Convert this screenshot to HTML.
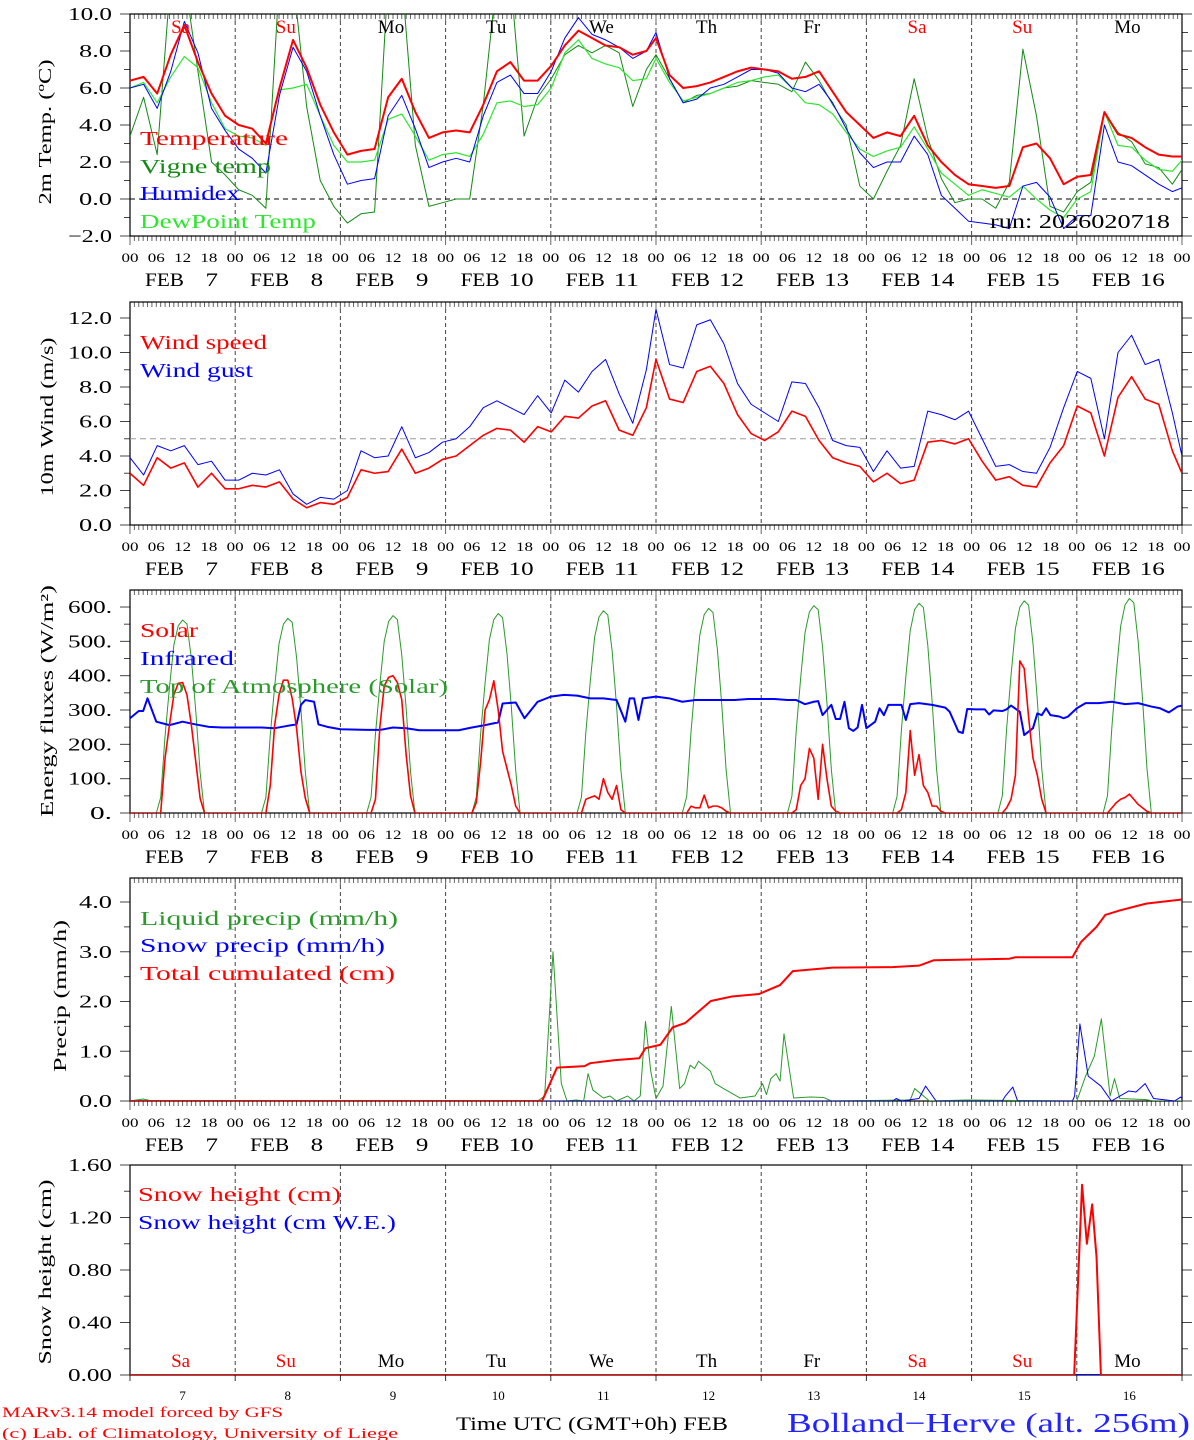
<!DOCTYPE html>
<html><head><meta charset="utf-8"><title>Meteogram</title>
<style>
html,body{margin:0;padding:0;background:#fff;}
svg{display:block;font-family:"Liberation Serif",serif;}
</style></head>
<body>
<svg id="chart" xmlns="http://www.w3.org/2000/svg" width="1194" height="1440" viewBox="0 0 1194 1440">
<rect x="0" y="0" width="1194" height="1440" fill="#fff"/>
<g id="layer"></g>
<g font-size="20">
<text x="140" y="145" fill="#f00" textLength="148" lengthAdjust="spacingAndGlyphs">Temperature</text>
<text x="140" y="173" fill="#138a13" textLength="131" lengthAdjust="spacingAndGlyphs">Vigne temp</text>
<text x="140" y="200" fill="#00f" textLength="100" lengthAdjust="spacingAndGlyphs">Humidex</text>
<text x="140" y="228" fill="#2ee62e" textLength="176" lengthAdjust="spacingAndGlyphs">DewPoint Temp</text>
<text x="990" y="228" fill="#000" textLength="180" lengthAdjust="spacingAndGlyphs">run: 2026020718</text>
<text x="140" y="349" fill="#f00" textLength="127" lengthAdjust="spacingAndGlyphs">Wind speed</text>
<text x="140" y="377" fill="#00f" textLength="113" lengthAdjust="spacingAndGlyphs">Wind gust</text>
<text x="140" y="637" fill="#f00" textLength="58" lengthAdjust="spacingAndGlyphs">Solar</text>
<text x="140" y="665" fill="#00f" textLength="94" lengthAdjust="spacingAndGlyphs">Infrared</text>
<text x="140" y="693" fill="#2a9a2a" textLength="308" lengthAdjust="spacingAndGlyphs">Top of Atmosphere (Solar)</text>
<text x="140" y="925" fill="#2a9a2a" textLength="258" lengthAdjust="spacingAndGlyphs">Liquid precip (mm/h)</text>
<text x="140" y="952" fill="#00f" textLength="245" lengthAdjust="spacingAndGlyphs">Snow precip (mm/h)</text>
<text x="140" y="980" fill="#f00" textLength="255" lengthAdjust="spacingAndGlyphs">Total cumulated (cm)</text>
<text x="138" y="1201" fill="#f00" textLength="203" lengthAdjust="spacingAndGlyphs">Snow height (cm)</text>
<text x="138" y="1229" fill="#00f" textLength="258" lengthAdjust="spacingAndGlyphs">Snow height (cm W.E.)</text>
</g>
<g font-size="18" fill="#000">
<text transform="translate(51,132) rotate(-90)" text-anchor="middle" textLength="145" lengthAdjust="spacingAndGlyphs">2m Temp. (ºC)</text>
<text transform="translate(53,417) rotate(-90)" text-anchor="middle" textLength="159" lengthAdjust="spacingAndGlyphs">10m Wind (m/s)</text>
<text transform="translate(53,701) rotate(-90)" text-anchor="middle" textLength="232" lengthAdjust="spacingAndGlyphs">Energy fluxes (W/m²)</text>
<text transform="translate(66,996) rotate(-90)" text-anchor="middle" textLength="152" lengthAdjust="spacingAndGlyphs">Precip (mm/h)</text>
<text transform="translate(51,1272) rotate(-90)" text-anchor="middle" textLength="185" lengthAdjust="spacingAndGlyphs">Snow height (cm)</text>
</g>
<g>
<text x="2" y="1417" font-size="15" fill="#f00" textLength="281" lengthAdjust="spacingAndGlyphs">MARv3.14 model forced by GFS</text>
<text x="2" y="1438" font-size="15" fill="#f00" textLength="396" lengthAdjust="spacingAndGlyphs">(c) Lab. of Climatology, University of Liege</text>
<text x="456" y="1430" font-size="19" fill="#000" textLength="272" lengthAdjust="spacingAndGlyphs">Time UTC (GMT+0h) FEB</text>
<text x="787" y="1432" font-size="27" fill="#2323ff" textLength="403" lengthAdjust="spacingAndGlyphs">Bolland−Herve (alt. 256m)</text>
</g>
</svg>
<script>
// ---------- data ----------
const tsHours = [0,3.1,6.2,9.3,12.4,15.5,18.6,21.7,24.8,27.9,31,34.1,37.2,40.3,43.4,46.5,49.6,52.7,55.8,58.9,62,65.1,68.2,71.3,74.4,77.5,80.6,83.7,86.8,89.9,93,96.1,99.2,102.3,105.4,108.5,111.6,114.7,117.8,
120,123.1,126.2,129.3,132.4,135.5,138.6,141.7,144.8,147.9,151,154.1,157.2,160.3,163.4,166.5,169.6,172.7,175.8,178.9,182,185.1,188.2,191.3,194.4,197.5,200.6,203.7,206.8,209.9,213,216.1,219.2,222.3,225.4,228.5,231.6,234.7,237.8,240];
const tempValues = [6.4,6.6,5.7,7.8,9.4,7.4,5.7,4.5, 4.0,3.8,3.0,6.0,8.6,7.1,5.1,3.6, 2.4,2.6,2.7,5.5,6.5,4.7,3.3,3.6, 3.7,3.6,5.1,6.9,7.4,6.4,6.4,7.2, 8.3,9.1,8.7,8.3,8.2,7.8,8.0,
8.7,6.7,6.0,6.1,6.3,6.6,6.9,7.1, 7.0,6.9,6.5,6.6,6.9,5.8,4.7,4.0, 3.3,3.6,3.4,4.5,2.9,2.0,1.3, 0.8,0.7,0.6,0.7,2.8,3.0,2.2,0.8, 1.2,1.3,4.7,3.5,3.3,2.8,2.4,2.3, 2.3];
const vigneValues = [3.4,5.5,2.4,12,12,6.9,2.0,1.3, 0.5,0.2,-0.5,12,12,5.0,1.0,-0.4, -1.3,-0.8,-0.7,12,12,2.9,-0.4,-0.2, 0.0,0.0,5.1,12,12,3.4,5.5,6.5, 7.8,8.3,7.9,8.3,7.9,5.0,7.0,
7.8,6.5,5.2,5.6,5.7,6.0,6.1,6.4, 6.3,6.2,5.8,7.4,6.4,5.1,4.0,0.7, 0.0,1.5,2.9,6.5,3.3,1.1,-0.2, 0.0,0.0,-0.5,0.9,8.1,4.5,-0.4,-0.7, 0.4,0.9,4.7,3.6,3.1,1.9,1.7,0.8, 1.6];
const humidexValues = [6.0,6.2,4.9,6.9,9.6,7.9,4.9,3.7, 2.7,2.2,1.4,5.6,8.2,6.9,4.5,2.4, 0.8,1.0,1.1,4.5,5.6,3.8,1.7,2.0, 2.2,2.0,4.5,6.3,6.7,5.7,5.7,6.9, 8.7,9.8,8.9,8.6,8.2,7.6,8.0,
9.0,6.5,5.2,5.4,6.0,6.2,6.6,7.0, 7.0,6.8,6.0,5.8,6.2,5.2,3.8,2.5, 1.7,2.0,2.0,3.4,2.4,0.2,-0.5, -1.2,-1.3,-1.4,-1.6,0.7,0.9,0.1,-1.6, -0.9,-0.9,4.0,2.0,1.8,1.3,0.8,0.4, 0.6];
const dewpointValues = [6.0,6.3,5.2,6.6,7.7,7.1,5.2,3.8, 3.4,3.3,2.9,5.9,6.0,6.2,4.5,2.9, 2.0,2.0,2.1,4.3,4.6,3.4,2.1,2.4, 2.5,2.3,3.5,5.2,5.3,5.0,5.1,6.0, 7.9,8.6,7.6,7.3,7.1,6.4,6.5,
7.6,6.3,5.3,5.5,5.7,6.0,6.3,6.4, 6.6,6.7,6.0,5.2,5.1,4.6,3.6,2.7, 2.3,2.6,2.8,3.9,2.7,1.4,0.8, 0.2,0.5,0.3,0.1,0.7,0.0,-0.6,-1.0, 0.0,0.4,4.7,2.9,2.8,2.1,1.6,1.5, 2.1];
const windSpeed = [3.0,2.3,3.9,3.3,3.6,2.2,3.0,2.1, 2.1,2.3,2.2,2.5,1.5,1.0,1.3,1.2, 1.6,3.2,3.0,3.1,4.4,3.0,3.3,3.8, 4.0,4.6,5.2,5.6,5.5,4.8,5.7,5.4, 6.3,6.2,6.9,7.2,5.5,5.2,6.8,
9.6,7.3,7.1,8.9,9.2,8.2,6.4,5.3, 4.9,5.4,6.6,6.3,4.9,3.9,3.6,3.4, 2.5,3.0,2.4,2.6,4.8,4.9,4.7,5.0, 3.7,2.6,2.8,2.3,2.2,3.6,4.6,6.9, 6.5,4.0,7.4,8.6,7.3,7.0,4.3, 3.0];
const windGust = [3.9,2.9,4.6,4.3,4.6,3.5,3.7,2.6, 2.6,3.0,2.9,3.2,1.8,1.2,1.6,1.5, 2.0,4.3,3.9,4.0,5.7,3.9,4.2,4.8, 5.0,5.7,6.8,7.2,6.8,6.4,7.5,6.5, 8.4,7.7,8.9,9.6,7.6,5.9,9.0,
12.5,9.3,9.1,11.6,11.9,10.5,8.2,7.0, 6.5,6.0,8.3,8.2,6.8,4.9,4.6,4.5, 3.1,4.3,3.3,3.4,6.6,6.4,6.1,6.6, 5.0,3.4,3.5,3.1,3.0,4.5,6.8,8.9, 8.5,5.0,10.0,11.0,9.3,9.6,6.5, 4.0];
const solarHourOfDay = [6,7,8,9,10,11,12,13,14,15,16,17,18];
const solarDay7  = [0,0,160,256,344,378,380,344,256,150,43,0,0];
const solarDay8  = [0,0,80,256,344,387,387,334,247,120,43,0,0];
const solarDay9  = [0,0,40,250,370,395,400,380,330,170,50,0,0];
const solarDay10 = [0,30,150,300,330,385,300,180,130,80,20,0,0];
const solarDay11 = [0,0,40,45,50,40,100,60,40,80,10,0,0];
const solarDay12 = [0,0,20,15,15,52,15,20,20,15,5,0,0];
const solarDay13 = [0,0,10,80,100,188,160,40,200,100,20,5,0];
const solarDay14 = [0,0,10,60,240,110,170,80,60,20,20,5,0];
const solarDay15 = [0,0,15,40,110,443,421,280,160,110,40,0,0];
const solarDay16 = [0,0,15,30,40,45,55,40,25,15,5,0,0];
const toaDailyPeak = [562,567,575,581,589,596,604,611,618,625];
const toaShape = [0,0.08,0.40,0.65,0.87,0.97,1.0,0.98,0.8,0.53,0.21,0,0];
const irHours = [0,2,3,4,6,9,12,15,18,21,24,30,33,36,38,39,40,42,43,45,48,54,57,60,63,66,69,72,75,78,81,84,85,88,90,93,96,99,102,105,108,111,113,114,115,116,117,120,123,126,129,132,135,138,141,144,147,150,152,154,156,157,158,160,161,162,163,164,165,166,167,168,170,171,172,173,175,176,177,178,180,183,186,187,189,190,191,193,195,196,197,199,200,201,203,204,206,207,208,209,210,212,213,214,216,218,221,224,227,230,233,235,237,239,240];
const irValues = [276,297,297,334,266,256,266,258,251,249,249,249,247,254,258,315,329,324,258,251,244,242,242,249,247,241,241,241,241,249,256,264,319,322,276,324,339,344,342,334,334,329,266,334,334,271,334,339,334,324,329,329,329,329,332,332,332,329,329,317,324,326,285,315,274,274,324,247,239,249,315,247,266,305,285,315,315,315,271,317,320,315,307,295,237,233,303,302,302,287,299,297,302,313,295,227,247,290,285,305,285,281,276,281,305,320,320,324,317,320,310,305,293,310,313];
const liquidHours = [0,3,5,93,94.6,96.5,98.4,99.7,101.8,103.5,104.5,105.6,108,109.5,111,113.5,115,116.4,117.6,118.8,120,121.6,123.5,125.4,126.5,127.8,128.8,129.7,132.4,133.5,135.4,139.2,142.6,144.3,145.2,146.2,147.4,148.3,149.2,151.4,155.2,158.3,160,178,179,182.4,191,216,218,220,221.6,223.6,224.6,225.8,231.6,233.5,240];
const liquidValues = [0,0.04,0,0,0.1,3.0,0.35,0,0.02,0,0.55,0.22,0.06,0.1,0,0.1,0,0.1,1.6,0.6,0.05,0.3,1.9,0.25,0.35,0.72,0.65,0.8,0.6,0.35,0.25,0.06,0.1,0.35,0.13,0.45,0.55,0.4,1.35,0.06,0.08,0.07,0,0.02,0.25,0,0.02,0,0.5,0.9,1.65,0.1,0.45,0.05,0.03,0,0];
const snowPrecipHours = [0,174,174.8,176,180,181.5,183.9,199,199.7,201.4,202.5,215,215.5,216.7,218.6,221.5,223.9,227.8,229.5,231.6,233.5,238.3,239.7,240];
const snowPrecipValues = [0,0,0.05,0,0.05,0.3,0,0,0.1,0.28,0,0,0.1,1.55,0.5,0.3,0,0.2,0.18,0.35,0.05,0,0.08,0.05];
const cumHours = [0,94,95.5,97.4,103.7,105,110.4,116.2,117.6,121,123.8,126.7,132.5,137.3,143.5,148.3,151.2,160.3,173.8,180,183.4,200.6,202,215,217,220.5,222.5,225.8,229.7,232,240];
const cumValues = [0,0,0.29,0.67,0.7,0.76,0.82,0.86,1.06,1.13,1.48,1.57,2.01,2.10,2.15,2.33,2.61,2.68,2.69,2.72,2.83,2.86,2.89,2.89,3.2,3.5,3.74,3.83,3.92,3.97,4.05];
const snowHeightHours = [0,215.4,217.2,218.3,219.5,220.5,221.5,240];
const snowHeightValues = [0,0,1.45,1.0,1.3,0.9,0,0];
const snowWEHours = [0,240];
const snowWEValues = [0,0];
const dayNames = ["Sa","Su","Mo","Tu","We","Th","Fr","Sa","Su","Mo"];
const dayNumbers = ["7","8","9","10","11","12","13","14","15","16"];
const hourTickLabels = ["00","06","12","18"];

// ---------- layout ----------
const NS = "http://www.w3.org/2000/svg";
const layer = document.getElementById("layer");
const X0 = 130, X1 = 1182, HMAX = 240;
function xScale(h){ return X0 + h*(X1-X0)/HMAX; }
const panels = [
 {id:"temp", top:14, bottom:236, min:-2, max:10, major:2, minor:1, fmt:v=>(v<0?"−":"")+Math.abs(v).toFixed(1)},
 {id:"wind", top:302, bottom:525, min:0, max:223/17.25, major:2, minor:1, lmax:12, fmt:v=>v.toFixed(1)},
 {id:"energy", top:590, bottom:813, min:0, max:223/0.3433, major:100, minor:50, lmax:600, fmt:v=>v.toFixed(0)+"."},
 {id:"precip", top:878, bottom:1101, min:0, max:223/49.75, major:1, minor:0.5, lmax:4, fmt:v=>v.toFixed(1)},
 {id:"snow", top:1165, bottom:1375, min:0, max:1.6, major:0.4, minor:0.2, fmt:v=>v.toFixed(2)}
];
function yScale(p,v){ return p.bottom - (v-p.min)*(p.bottom-p.top)/(p.max-p.min); }
function mk(tag, attrs, parent){
  const e = document.createElementNS(NS, tag);
  for (const k in attrs) e.setAttribute(k, attrs[k]);
  (parent||layer).appendChild(e);
  return e;
}
function pathD(p, hours, vals){
  let d = "";
  const n = Math.min(hours.length, vals.length);
  for (let i=0;i<n;i++){
    d += (i?"L":"M") + xScale(hours[i]).toFixed(2) + "," + yScale(p, vals[i]).toFixed(2);
  }
  return d;
}
const defs = mk("defs", {});
panels.forEach((p,pi)=>{
  const cp = mk("clipPath", {id:"clip"+pi}, defs);
  mk("rect", {x:X0, y:p.top, width:X1-X0, height:p.bottom-p.top}, cp);
  const g = mk("g", {});
  
  
  p.g = g;
  // day boundary dashed lines
  for (let d=1; d<10; d++){
    const l = mk("line", {x1:xScale(24*d), x2:xScale(24*d), y1:p.top, y2:p.bottom, stroke:"#444", "stroke-width":1, "stroke-dasharray":"4,3"}, g);
    
    
  }
  // hourly ticks
  if (pi<4){
    for (let h=0; h<=240; h++){
      const len = (h%24===0)?9:5;
      const t1 = mk("line", {x1:xScale(h), x2:xScale(h), y1:p.top, y2:p.top+len, stroke:"#666", "stroke-width":1}, g);
      
      
      const t2 = mk("line", {x1:xScale(h), x2:xScale(h), y1:p.bottom, y2:p.bottom+len, stroke:"#666", "stroke-width":1}, g);
      
      
    }
    for (let d=0; d<=10; d++){
      hourTickLabels.forEach((lab,i)=>{
        if (d===10 && i>0) return;
        const t = mk("text", {x:xScale(24*d+6*i), y:p.bottom+26, "font-size":13, "text-anchor":"middle", textLength:17, lengthAdjust:"spacingAndGlyphs", fill:"#000"}, g);
        t.textContent = lab;
        
        
      });
      if (d<10){
        const f = mk("text", {x:xScale(24*d)+15, y:p.bottom+50, "font-size":19, textLength:39, lengthAdjust:"spacingAndGlyphs", fill:"#000"}, g);
        f.textContent = "FEB";
        
        
        const nn = mk("text", {x:xScale(24*d)+88, y:p.bottom+50, "font-size":19, "text-anchor":"end", textLength:dayNumbers[d].length*12.5, lengthAdjust:"spacingAndGlyphs", fill:"#000"}, g);
        nn.textContent = dayNumbers[d];
        
        
      }
    }
  } else {
    for (let d=0; d<=10; d++){
      const t = mk("line", {x1:xScale(24*d), x2:xScale(24*d), y1:p.bottom, y2:p.bottom+6, stroke:"#333", "stroke-width":1}, g);
      
      
      if (d<10){
        const nl = mk("text", {x:xScale(24*d+12), y:p.bottom+25, "font-size":13, "text-anchor":"middle", fill:"#000"}, g);
        nl.textContent = dayNumbers[d];
        
        
      }
    }
  }
  // y ticks
  const lmax = p.lmax!==undefined ? p.lmax : p.max;
  for (let v=p.min; v<=p.max+1e-9; v+=p.minor){
    const y = yScale(p,v);
    const isMajor = Math.abs(Math.round((v-p.min)/p.major)*p.major-(v-p.min))<1e-6;
    const len = isMajor?10:6;
    const a = mk("line", {x1:X0-len, x2:X0, y1:y, y2:y, stroke:"#444", "stroke-width":1}, g);
    
    
    const b = mk("line", {x1:X1, x2:X1+len, y1:y, y2:y, stroke:"#444", "stroke-width":1}, g);
    
    
    if (isMajor && v<=lmax+1e-9){
      const s = p.fmt(Math.round(v*100)/100);
      const t = mk("text", {x:112, y:y+6, "font-size":18, "text-anchor":"end", textLength:s.length*11, lengthAdjust:"spacingAndGlyphs", fill:"#000"}, g);
      t.textContent = s;
      
      
    }
  }
  // frame
  const fr = mk("rect", {x:X0, y:p.top, width:X1-X0, height:p.bottom-p.top, fill:"none", stroke:"#000", "stroke-width":1.2}, g);
  
  
  p.series = mk("g", {"clip-path":"url(#clip"+pi+")"}, g);
  
  
});

function addLine(p, hours, vals, color, width, name){
  const e = mk("path", {d:pathD(p, hours, vals), fill:"none", stroke:color, "stroke-width":width, "stroke-linejoin":"round"}, p.series);
  
  
  return e;
}
function addHLine(p, v, color, dash, name){
  const y = yScale(p, v);
  const e = mk("line", {x1:X0, x2:X1, y1:y, y2:y, stroke:color, "stroke-width":1, "stroke-dasharray":dash}, p.series);
  
  
}
function addDayNames(p, y){
  dayNames.forEach((n,d)=>{
    const t = mk("text", {x:xScale(24*d+12)-2, y:y, "font-size":19, "text-anchor":"middle", fill:(n==="Sa"||n==="Su")?"#f00":"#000"}, p.g);
    t.textContent = n;
    
    
  });
}

// Panel 1: temperature
const P1 = panels[0];
addHLine(P1, 0, "#000", "5,4", "zero-line");
addDayNames(P1, 33);
addLine(P1, tsHours, vigneValues, "#138a13", 1, "vigne-temp-line");
addLine(P1, tsHours, dewpointValues, "#2ee62e", 1.2, "dewpoint-line");
addLine(P1, tsHours, humidexValues, "#0000ff", 1, "humidex-line");
addLine(P1, tsHours, tempValues, "#ff0000", 2, "temperature-line");

// Panel 2: wind
const P2 = panels[1];
addHLine(P2, 5, "#999", "6,4", "wind-reference-line");
addLine(P2, tsHours, windGust, "#0000ff", 1, "wind-gust-line");
addLine(P2, tsHours, windSpeed, "#ff0000", 1.6, "wind-speed-line");

// Panel 3: energy
const P3 = panels[2];
const solarByDay = [solarDay7,solarDay8,solarDay9,solarDay10,solarDay11,solarDay12,solarDay13,solarDay14,solarDay15,solarDay16];
const sunH = [0], sunV = [0], toaV = [0];
solarByDay.forEach((arr,d)=>{
  solarHourOfDay.forEach((h,i)=>{
    sunH.push(24*d+h);
    sunV.push(arr[i]);
    toaV.push(toaDailyPeak[d]*toaShape[i]);
  });
});
sunH.push(240); sunV.push(0); toaV.push(0);
addLine(P3, sunH, toaV, "#2a9a2a", 1, "toa-solar-line");
addLine(P3, irHours, irValues, "#0000ff", 2, "infrared-line");
addLine(P3, sunH, sunV, "#ff0000", 1.6, "solar-line");

// Panel 4: precip
const P4 = panels[3];
addLine(P4, liquidHours, liquidValues, "#2a9a2a", 1, "liquid-precip-line");
addLine(P4, snowPrecipHours, snowPrecipValues, "#0000ff", 1, "snow-precip-line");
addLine(P4, cumHours, cumValues, "#ff0000", 2, "total-cumulated-line");

// Panel 5: snow height
const P5 = panels[4];
addDayNames(P5, 1367);
addLine(P5, snowWEHours, snowWEValues, "#0000ff", 2, "snow-we-line");
addLine(P5, snowHeightHours, snowHeightValues, "#ff0000", 2, "snow-height-line");
</script>
</body></html>
